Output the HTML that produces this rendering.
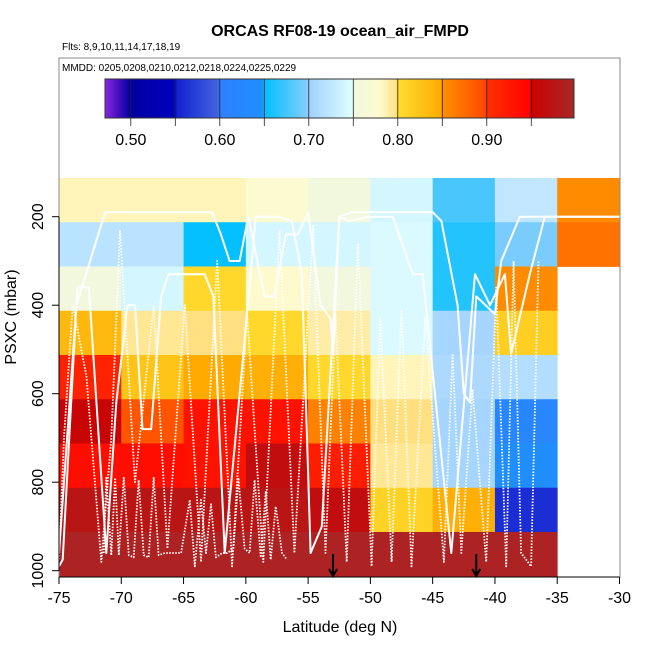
<!DOCTYPE html>
<html><head><meta charset="utf-8">
<style>
html,body{margin:0;padding:0;background:#fff;}
svg{display:block;font-family:"Liberation Sans",sans-serif;}
</style></head>
<body>
<svg id="chart" width="650" height="650" viewBox="0 0 650 650">
  <text x="340" y="36" text-anchor="middle" font-size="16" font-weight="bold">ORCAS RF08-19 ocean_air_FMPD</text>
  <text x="62" y="50" font-size="10">Flts: 8,9,10,11,14,17,18,19</text>
  <g id="cells"></g>
  <g id="tracks"></g>
  <rect x="59" y="58" width="561" height="519" fill="none" stroke="#888" stroke-width="1"/>
  <text x="62" y="71" font-size="10">MMDD: 0205,0208,0210,0212,0218,0224,0225,0229</text>
  <g id="legend"></g>
  <g id="axes"></g>
  <text x="340" y="632" text-anchor="middle" font-size="16">Latitude (deg N)</text>
  <text x="0" y="0" transform="translate(16,317) rotate(-90)" text-anchor="middle" font-size="16">PSXC (mbar)</text>
</svg>
<script>
// ---- data ----
const latBins = [-75,-70,-65,-60,-55,-50,-45,-40,-35];
const presBins = [162.5,262.5,362.5,462.5,562.5,662.5,762.5,862.5,962.5];
// values[column][row] (row = pressure bin top->bottom), null = no data
const col75 = [0.785,0.72,0.755,0.835,0.915,0.955,0.935,0.975,0.99];
const col70 = [0.785,0.72,0.74,0.795,0.825,0.89,0.935,0.975,0.99];
const col65 = [0.785,0.652,0.805,0.80,0.85,0.93,0.93,0.975,0.99];
const col60 = [0.775,0.74,0.78,0.805,0.845,0.93,0.965,0.975,0.99];
const col55 = [0.755,0.74,0.755,0.79,0.805,0.86,0.92,0.965,0.99];
const col50 = [0.74,0.745,0.745,0.745,0.785,0.80,0.795,0.81,0.99];
const col45 = [0.677,0.663,0.663,0.705,0.71,0.705,0.705,0.845,0.99];
const col40 = [0.725,0.695,0.853,0.815,0.715,0.62,0.645,0.56,0.99];
const col35 = [0.853,0.87,null,null,null,null,null,null,null];
const columns = [col75,col70,col65,col60,col55,col50,col45,col40,col35];
const xTicks = [-75,-70,-65,-60,-55,-50,-45,-40,-35,-30];
const yTicks = [200,400,600,800,1000];
const cbTicks = [0.50,0.60,0.70,0.80,0.90];
const cbLines = [0.50,0.55,0.60,0.65,0.70,0.75,0.80,0.85,0.90,0.95];
const arrowLats = [-53,-41.5];
// flight tracks (lat, pressure)
const trackALat = [-75,-74.7,-73.6,-71.3,-62.7,-62,-61.3,-60.5,-59.8,-58.5,-57.7,-56.8,-55.8,-55,-54,-53.2,-53,-52.5,-51.5,-45,-44.3,-43,-42.5,-42,-41.5,-40,-39.5,-38,-36.8,-35.5,-30];
const trackAP   = [990,975,400,190,190,240,300,300,200,380,380,240,240,190,400,430,510,200,190,190,210,400,600,620,380,420,300,200,200,200,200];
const trackBLat = [-75,-73.5,-72.6,-71.2,-70.4,-69.5,-68.9,-68.3,-67.6,-66.8,-66.2,-65.4,-63.3,-62.6,-61.7,-60.4,-59.2,-58.5,-57.5,-56.3,-55.5,-54.8,-53.9,-52.5,-51.7,-50.2,-48.2,-46.6,-45.8,-43.5,-41.6,-40.4,-39.2,-38.7,-37.2,-36,-35.2,-30];
const trackBP   = [960,360,360,960,620,400,400,680,680,380,330,330,330,380,960,570,200,200,200,210,330,960,900,200,210,200,200,330,330,960,330,400,330,510,330,200,200,200];
const trackCLat = [-71.4,-71.2,-70.8,-70.5,-70.2,-69.8,-69.4,-69,-68.6,-68.2,-67.8,-67.4,-67,-66.5,-65.2,-64.5,-64.1,-63.6,-63.2,-62.8,-62.4,-61.9,-61.5,-61,-60.6,-60.1,-59.7,-59.3,-58.8,-58.4,-58,-57.6,-57.1,-56.7];
const trackCP   = [960,790,965,790,965,790,965,970,795,965,970,790,965,960,960,840,990,840,960,850,970,960,960,950,790,950,960,795,970,820,975,855,960,975];
const trackDLat = [-75,-74.6,-73.9,-72.8,-71.6,-70.8,-70.1,-68.9,-67.4,-66.3,-64.9,-63.6,-62.3,-61.1,-59.9,-58.6,-57.3,-56.1,-54.6,-53.6,-52.8,-51.9,-51,-49.9,-49.2,-48.3,-47.5,-46.7,-45.6,-44.1,-43.4,-42.7,-41.8,-40.7,-39.9,-39.1,-38.5,-37.9,-37.1,-36.5];
const trackDP   = [975,700,400,560,980,700,230,800,400,950,400,980,300,990,420,980,230,960,220,960,420,980,260,990,430,980,410,990,430,980,510,960,590,980,360,990,300,960,990,300];

// ---- scales ----
const X0=59, X1=619.5;
const xs = v => X0 + (v+75)/45*(X1-X0);
const ys = p => 570.7 - (1000-p)*0.4425;
const stops = [[0.47,'#8a2be2'],[0.485,'#4a10c0'],[0.50,'#0000a0'],[0.55,'#0000c0'],[0.5501,'#1020d0'],[0.60,'#4466e0'],[0.6001,'#2f7fff'],[0.65,'#1e90ff'],[0.6501,'#00bfff'],[0.70,'#87cefa'],[0.7001,'#a0d0ff'],[0.75,'#e0ffff'],[0.7501,'#f0f8e0'],[0.78,'#fffacd'],[0.80,'#ffe080'],[0.8001,'#ffdd30'],[0.85,'#ffaa00'],[0.8501,'#ff9000'],[0.90,'#ff4500'],[0.9001,'#ff3000'],[0.95,'#ff0000'],[0.9501,'#cd0000'],[1.0,'#a52a2a']];
function hex(c){return [1,3,5].map(i=>parseInt(c.substr(i,2),16));}
function cmap(v){
  if(v<=stops[0][0]) return stops[0][1];
  for(let i=1;i<stops.length;i++){
    if(v<=stops[i][0]){
      const a=hex(stops[i-1][1]), b=hex(stops[i][1]);
      const t=(v-stops[i-1][0])/(stops[i][0]-stops[i-1][0]);
      return 'rgb('+a.map((x,k)=>Math.round(x+(b[k]-x)*t)).join(',')+')';
    }
  }
  return stops[stops.length-1][1];
}
const NS='http://www.w3.org/2000/svg';
function mk(tag,attrs,parent){const e=document.createElementNS(NS,tag);for(const k in attrs)e.setAttribute(k,attrs[k]);parent.appendChild(e);return e;}

// ---- heatmap ----
const cells=document.getElementById('cells');
columns.forEach((col,ci)=>{
  col.forEach((v,ri)=>{
    if(v===null) return;
    const x=xs(latBins[ci]), x2=xs(latBins[ci]+5);
    const y=ys(presBins[ri]-50), y2=ys(presBins[ri]+50);
    const r=mk('rect',{x:x,y:y,width:x2-x+0.4,height:y2-y+0.4,fill:cmap(v)},cells);
    
    
  });
});

// ---- tracks ----
const tracks=document.getElementById('tracks');
function drawTrack(lats,ps,dotted,name){
  const pts=lats.map((l,i)=>xs(l).toFixed(1)+','+ys(ps[i]).toFixed(1)).join(' ');
  const pl=mk('polyline',{points:pts,fill:'none',stroke:'#fff','stroke-width':dotted?1.8:2,'stroke-dasharray':dotted?'1.5,1.5':'none','stroke-linejoin':'round'},tracks);
  
  
}
drawTrack(trackALat,trackAP,false,'flight-track-a');
drawTrack(trackBLat,trackBP,false,'flight-track-b');
drawTrack(trackCLat,trackCP,true,'flight-track-c');
drawTrack(trackDLat,trackDP,true,'flight-track-d');

// arrows
arrowLats.forEach(l=>{
  const x=xs(l);
  const g=mk('g',{},tracks);
  
  
  mk('line',{x1:x,y1:554,x2:x,y2:576,stroke:'#000','stroke-width':2},g);
  mk('polyline',{points:(x-4)+',569 '+x+',576 '+(x+4)+',569',fill:'none',stroke:'#000','stroke-width':2},g);
});

// ---- axes ----
const axes=document.getElementById('axes');
mk('line',{x1:xs(-75),y1:577,x2:xs(-30),y2:577,stroke:'#000','stroke-width':1},axes);
xTicks.forEach(t=>{
  const x=xs(t);
  mk('line',{x1:x,y1:577,x2:x,y2:584,stroke:'#000'},axes);
  const tx=mk('text',{x:x,y:603,'text-anchor':'middle','font-size':16},axes);
  tx.textContent=t;
  
  
});
mk('line',{x1:59,y1:ys(200),x2:59,y2:ys(1000),stroke:'#000'},axes);
yTicks.forEach(t=>{
  const y=ys(t);
  mk('line',{x1:52,y1:y,x2:59,y2:y,stroke:'#000'},axes);
  const tx=mk('text',{x:0,y:0,transform:'translate(43,'+y+') rotate(-90)','text-anchor':'middle','font-size':16},axes);
  tx.textContent=t;
  
  
});

// ---- colorbar ----
const leg=document.getElementById('legend');
const cb0=0.471, cb1=0.998, CX0=105, CX1=574, CY0=79, CY1=118;
const cx=v=>CX0+(v-cb0)/(cb1-cb0)*(CX1-CX0);
const defs=mk('defs',{},leg);
const grad=mk('linearGradient',{id:'cbg',x1:'0',x2:'1',y1:'0',y2:'0'},defs);
for(let i=0;i<=200;i++){const v=cb0+(cb1-cb0)*i/200;mk('stop',{offset:(i/200),'stop-color':cmap(v)},grad);}
const cbr=mk('rect',{x:CX0,y:CY0,width:CX1-CX0,height:CY1-CY0,fill:'url(#cbg)',stroke:'#333','stroke-width':1},leg);


cbLines.forEach(v=>{
  const x=cx(v);
  mk('line',{x1:x,y1:CY0,x2:x,y2:126,stroke:'#222','stroke-width':0.8},leg);
});
cbTicks.forEach(v=>{
  const t=mk('text',{x:cx(v),y:145,'text-anchor':'middle','font-size':16},leg);
  t.textContent=v.toFixed(2);
  
  
});
</script>
</body></html>
